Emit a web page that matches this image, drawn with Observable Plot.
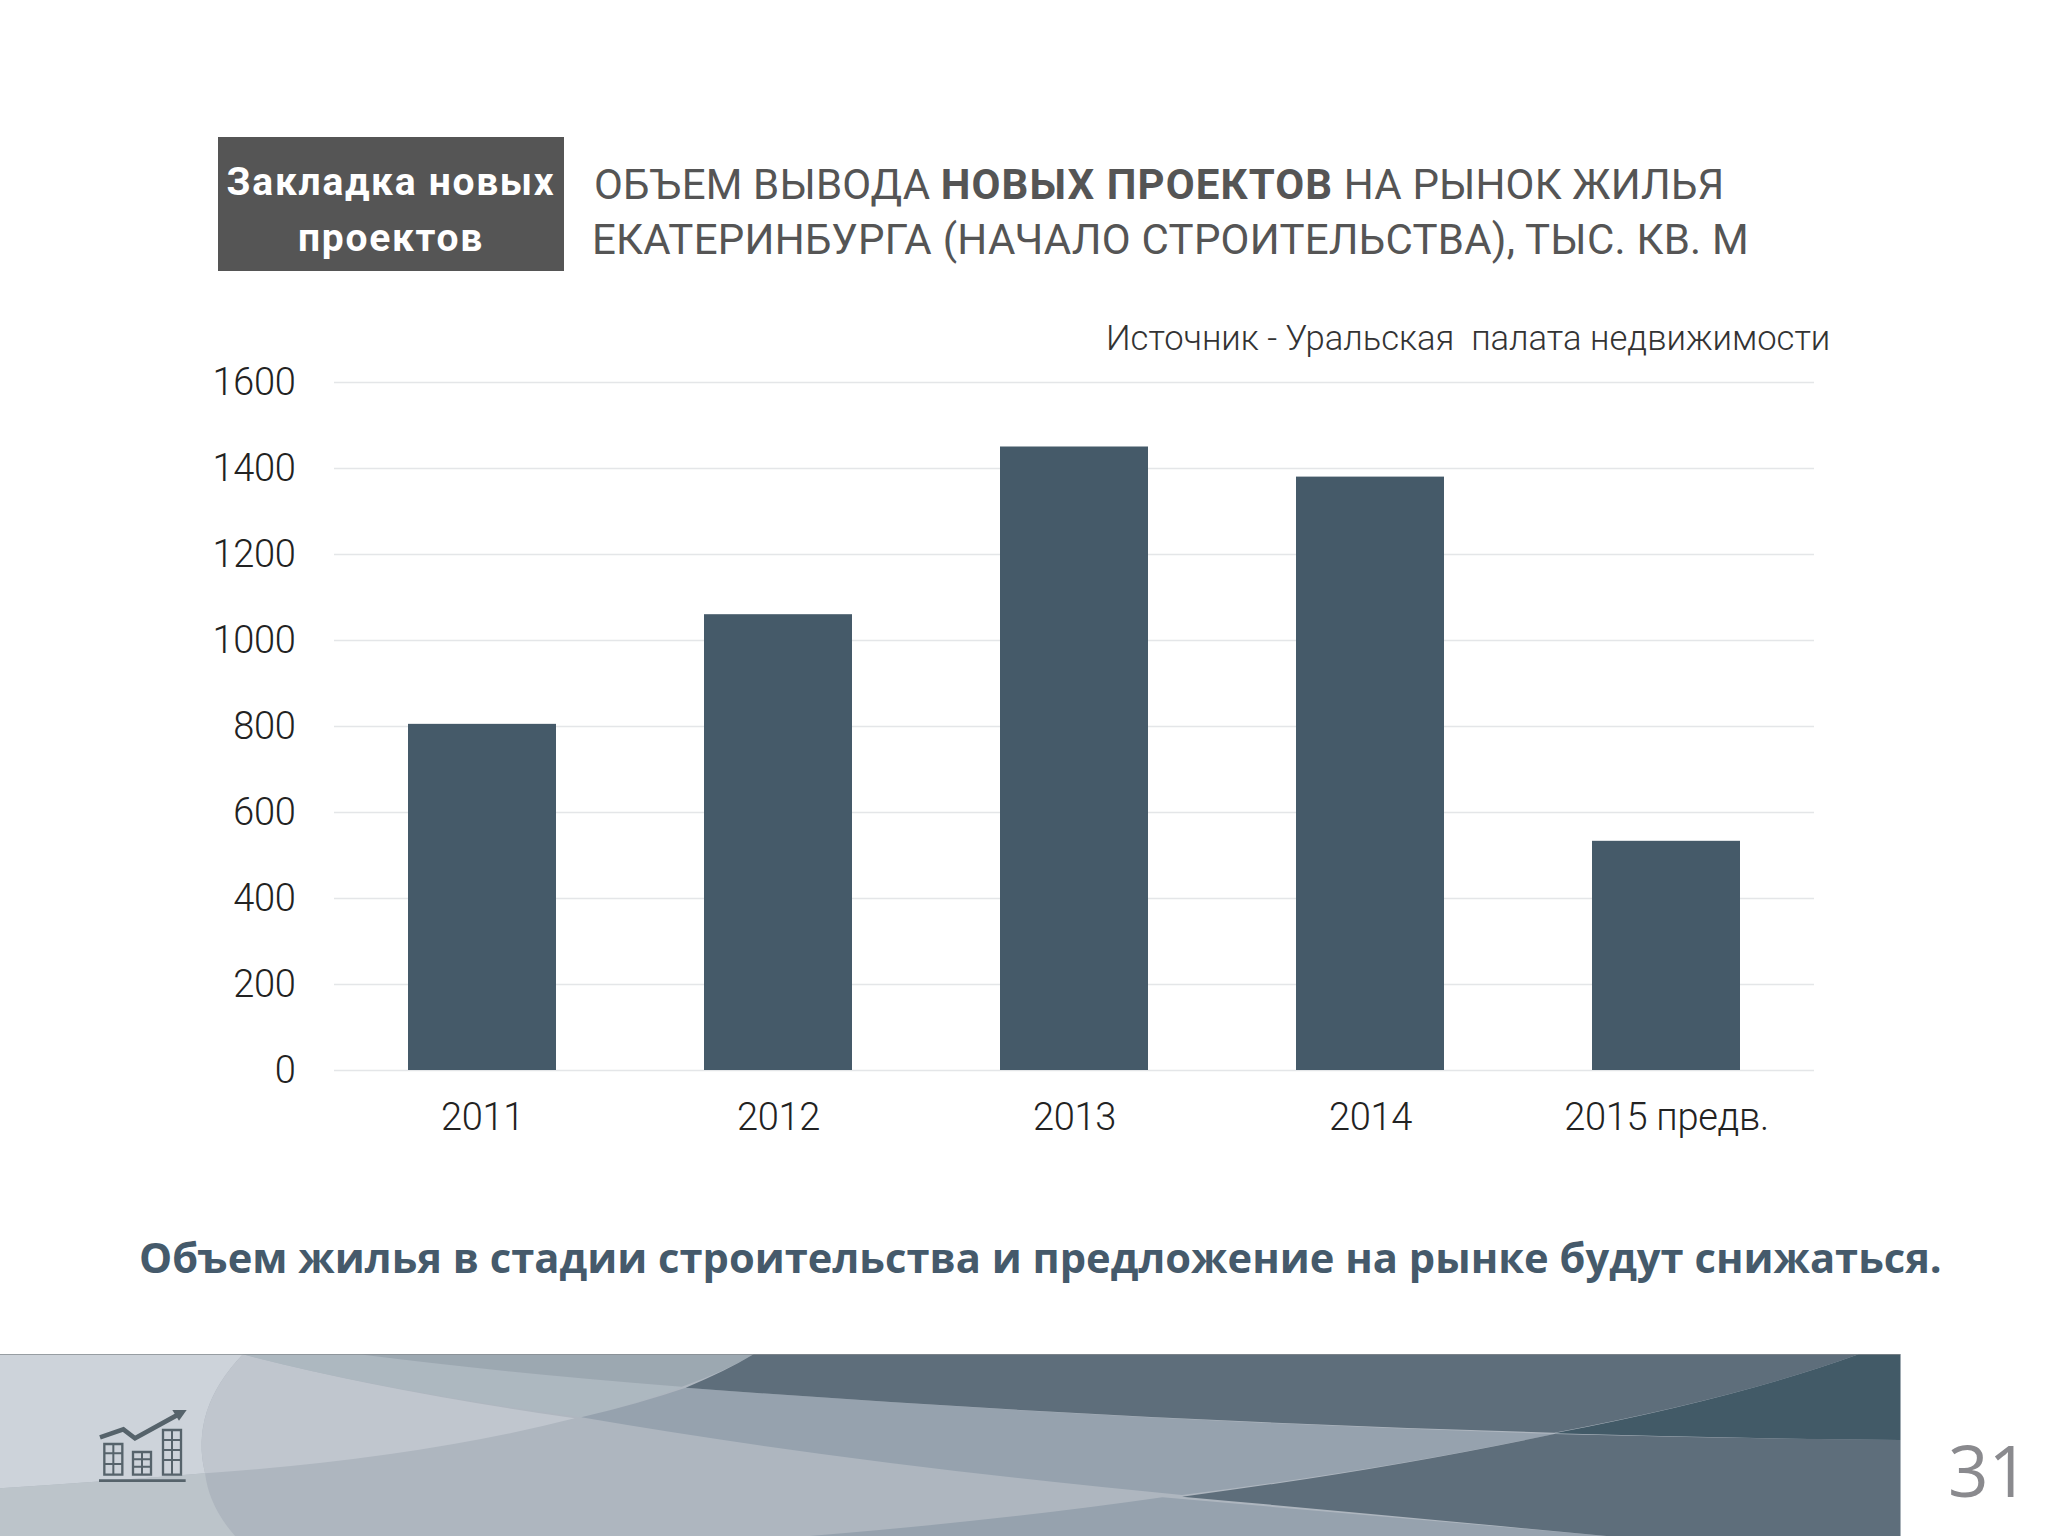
<!DOCTYPE html>
<html lang="ru">
<head>
<meta charset="utf-8">
<title>Закладка новых проектов</title>
<script src="https://cdn.jsdelivr.net/npm/d3@7"></script>
<script src="https://cdn.jsdelivr.net/npm/@observablehq/plot@0.6"></script>
<style>
html,body{margin:0;padding:0;background:#fff;width:2048px;height:1536px;overflow:hidden}
.t{position:absolute;white-space:pre;line-height:1}
#badge{position:absolute;left:218px;top:137px;width:346px;height:134px;background:#555}
.b{font:700 39px Roboto,sans-serif;color:#fff;letter-spacing:1.7px;text-align:center;left:218px;width:346px}
.h{font:400 42px Roboto,sans-serif;color:#555;letter-spacing:.25px}
.h.one{letter-spacing:.15px}
.h b{font-weight:700;letter-spacing:1.1px}
#src{font:300 34.6px Roboto,sans-serif;color:#333;left:1106px;top:318px}
#cap{font:700 41.7px "Open Sans",sans-serif;color:#455a6b;left:139px;top:1228px}
#num{font:400 71px "Open Sans",sans-serif;color:#8a8a8e;left:1948px;top:1421px}
#chart{position:absolute;left:0;top:300px}
#deco{position:absolute;left:0;top:1340px}
#icon{position:absolute;left:85px;top:1400px}
</style>
</head>
<body>
<svg id="deco" width="2048" height="196" viewBox="0 0 1568 588" preserveAspectRatio="none">
  <rect x="0" y="43" width="1455" height="545" fill="#aeb6bf"/>
  <path d="M0,43H186Q145,210 157,400Q80,425 0,445Z" fill="#cdd3da"/>
  <path d="M0,445Q80,425 157,400Q160,500 180,588H0Z" fill="#bcc4ca"/>
  <path d="M186,43Q145,210 157,400Q320,355 440,235Q290,150 186,43Z" fill="#c0c6ce"/>
  <path d="M186,43H275Q390,100 522,140Q490,190 445,232Q290,150 186,43Z" fill="#adb8c0"/>
  <path d="M275,43H577Q555,95 522,140Q390,100 275,43Z" fill="#9ca8b1"/>
  <path d="M445,232Q490,190 525,143Q850,240 1190,282Q1060,390 905,465Q650,370 445,232Z" fill="#96a2ae"/>
  <path d="M890,472Q1060,530 1230,588H620Q770,540 890,472Z" fill="#96a2ae"/>
  <path d="M577,43H1423Q1330,175 1190,278Q850,240 525,143Q555,95 577,43Z" fill="#5e6e7b"/>
  <path d="M1423,43H1455V300Q1320,295 1190,280Q1330,175 1423,43Z" fill="#425a67"/>
  <path d="M1190,282Q1320,295 1455,300V588H1230Q1060,525 905,470Q1060,390 1190,282Z" fill="#5e6e7b"/>
  <rect x="0" y="42" width="1455" height="2" fill="#7d8387"/>
</svg>
<svg id="icon" width="120" height="90" viewBox="0 0 360 270" fill="none" stroke="#56636b">
  <path d="M45,112L115,88L150,115L290,38" stroke-width="14"/>
  <path d="M262,30L305,30L282,62Z" fill="#56636b" stroke="none"/>
  <path d="M58,132H112V224H58ZM144,156H198V224H144ZM234,90H288V224H234Z" stroke-width="7"/>
  <path d="M58,160H112M58,192H112M85,132V224M144,178H198M144,200H198M171,156V224M234,120H288M234,150H288M234,180H288M261,90V224" stroke-width="6"/>
  <path d="M42,242H302" stroke-width="8"/>
</svg>
<div id="badge"></div>
<div class="t b" style="top:159px">Закладка новых</div>
<div class="t b" style="top:215px">проектов</div>
<div class="t h one" style="left:594px;top:160px">ОБЪЕМ ВЫВОДА <b>НОВЫХ ПРОЕКТОВ</b> НА РЫНОК ЖИЛЬЯ</div>
<div class="t h" style="left:592px;top:215px">ЕКАТЕРИНБУРГА (НАЧАЛО СТРОИТЕЛЬСТВА), ТЫС. КВ. М</div>
<div class="t" id="src">Источник - Уральская  палата недвижимости</div>
<div id="chart"></div>
<div class="t" id="cap">Объем жилья в стадии строительства и предложение на рынке будут снижаться.</div>
<div class="t" id="num">31</div>
<script>
const years = ["2011", "2012", "2013", "2014", "2015 предв."];
const volumes = [805, 1060, 1450, 1380, 533];
const yTicks = [0, 200, 400, 600, 800, 1000, 1200, 1400, 1600];
const table = years.map((year, i) => ({year, volume: volumes[i]}));

const plot = Plot.plot({
  width: 2048,
  height: 850,
  marginTop: 82,
  marginBottom: 80,
  marginLeft: 334,
  marginRight: 234,
  style: {background: "transparent", fontFamily: "Roboto, sans-serif", fontWeight: 300, fontSize: "38px", color: "#222", letterSpacing: "-0.3px"},
  x: {domain: years, paddingInner: 0.5, paddingOuter: 0.25, label: null},
  y: {domain: [0, 1600], label: null},
  marks: [
    Plot.ruleY(yTicks, {stroke: "#e4e6e8", strokeWidth: 1.5}),
    Plot.barY(table, {x: "year", y: "volume", fill: "#455a69"}),
    Plot.axisX({tickSize: 0, tickPadding: 33, label: null, fontSize: 38}),
    Plot.axisY({ticks: yTicks, tickSize: 0, tickPadding: 39, label: null, tickFormat: d => String(d), fontSize: 38})
  ]
});
document.getElementById("chart").appendChild(plot);
</script>
</body>
</html>
